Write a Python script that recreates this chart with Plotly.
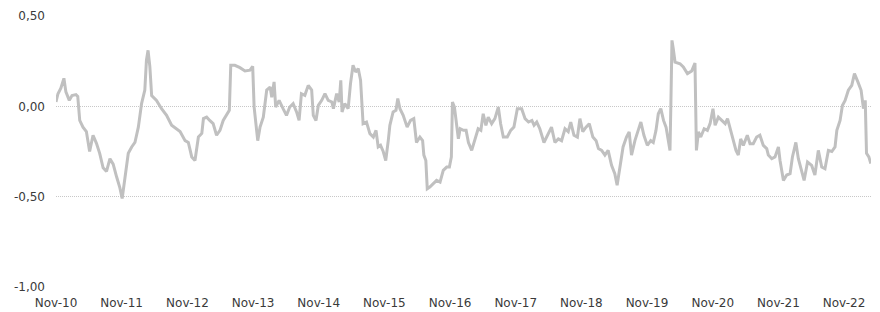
import plotly.graph_objects as go

dates = [
"2010-11-01","2010-11-12","2010-11-28","2010-12-15","2010-12-26","2011-01-14","2011-01-29","2011-02-20","2011-03-02","2011-03-13",
"2011-03-31","2011-04-19","2011-05-07","2011-05-26","2011-06-14","2011-07-02","2011-07-21","2011-08-09","2011-08-28","2011-09-15",
"2011-10-04","2011-10-22","2011-11-04","2011-11-19","2011-12-08","2011-12-27","2012-01-14","2012-02-02","2012-02-20","2012-03-09",
"2012-03-18","2012-03-27","2012-04-06","2012-04-16","2012-05-13","2012-06-10","2012-07-08","2012-08-05","2012-08-24","2012-09-21",
"2012-10-19","2012-11-06","2012-11-25","2012-12-13","2013-01-01","2013-01-20","2013-01-29","2013-02-16","2013-03-05","2013-03-24",
"2013-04-12","2013-05-01","2013-05-19","2013-06-07","2013-06-22","2013-06-30","2013-07-23","2013-08-20","2013-09-17","2013-10-15",
"2013-10-30","2013-11-07","2013-11-18","2013-11-27","2013-12-10","2013-12-28","2014-01-16","2014-02-04","2014-02-13","2014-02-26",
"2014-03-07","2014-03-26","2014-04-17","2014-05-06","2014-05-24","2014-06-12","2014-07-01","2014-07-15","2014-07-28","2014-08-16",
"2014-09-04","2014-09-23","2014-10-02","2014-10-17","2014-10-30","2014-11-18","2014-12-06","2014-12-24","2015-01-13","2015-01-22",
"2015-02-09","2015-02-23","2015-03-04","2015-03-11","2015-03-26","2015-04-14","2015-04-27","2015-05-11","2015-05-26","2015-06-09",
"2015-06-22","2015-07-06","2015-07-25","2015-08-13","2015-09-01","2015-09-16","2015-09-28","2015-10-11","2015-10-26","2015-11-09",
"2015-11-23","2015-12-02","2015-12-20","2016-01-05","2016-01-15","2016-01-27","2016-02-14","2016-03-07","2016-03-26","2016-04-13",
"2016-04-28","2016-05-17","2016-06-01","2016-06-08","2016-06-19","2016-06-27","2016-07-11","2016-07-30","2016-08-18","2016-09-06",
"2016-09-24","2016-10-13","2016-10-28","2016-11-08","2016-11-14","2016-11-25","2016-12-08","2016-12-17","2016-12-27","2017-01-14",
"2017-01-29","2017-02-11","2017-03-01","2017-03-19","2017-04-06","2017-04-21","2017-05-04","2017-05-19","2017-06-01","2017-06-20",
"2017-07-08","2017-07-27","2017-08-09","2017-08-24","2017-09-15","2017-10-04","2017-10-22","2017-11-10","2017-12-04","2017-12-23",
"2018-01-11","2018-01-30","2018-02-11","2018-02-26","2018-03-15","2018-04-07","2018-05-01","2018-05-19","2018-06-07","2018-06-26",
"2018-07-14","2018-08-02","2018-08-20","2018-09-03","2018-09-21","2018-10-10","2018-10-24","2018-11-09","2018-11-27","2018-12-15",
"2019-01-04","2019-01-22","2019-02-04","2019-02-22","2019-03-12","2019-03-30","2019-04-18","2019-05-06","2019-05-19","2019-06-03",
"2019-06-21","2019-07-10","2019-07-25","2019-08-07","2019-08-26","2019-09-13","2019-09-28","2019-10-15","2019-11-03","2019-11-22",
"2019-12-06","2019-12-21","2020-01-03","2020-01-17","2020-02-01","2020-02-15","2020-02-25","2020-03-08","2020-03-13","2020-03-19",
"2020-03-26","2020-04-05","2020-05-03","2020-05-21","2020-06-13","2020-07-07","2020-07-25","2020-08-02","2020-08-13","2020-08-26",
"2020-09-14","2020-10-02","2020-10-17","2020-11-02","2020-11-14","2020-12-02","2020-12-21","2021-01-09","2021-01-22","2021-02-06",
"2021-02-24","2021-03-10","2021-03-23","2021-04-05","2021-04-20","2021-05-12","2021-05-27","2021-06-14","2021-07-03","2021-07-21",
"2021-08-09","2021-08-28","2021-09-06","2021-09-25","2021-10-13","2021-11-01","2021-11-10","2021-11-29","2021-12-17","2022-01-05",
"2022-01-18","2022-02-06","2022-02-20","2022-03-10","2022-03-24","2022-04-12","2022-05-05","2022-05-23","2022-06-11","2022-06-30",
"2022-07-18","2022-08-06","2022-08-25","2022-09-12","2022-09-22","2022-10-10","2022-10-23","2022-11-07","2022-11-25","2022-12-14",
"2022-12-29","2023-01-17","2023-02-04","2023-02-17","2023-02-27","2023-03-06","2023-03-19","2023-03-30",
]

values = [
0.024,0.07,0.10,0.155,0.08,0.033,0.06,0.065,0.055,-0.078,
-0.115,-0.14,-0.25,-0.16,-0.205,-0.26,-0.34,-0.36,-0.29,-0.32,
-0.39,-0.45,-0.51,-0.41,-0.26,-0.225,-0.2,-0.115,0.015,0.09,
0.255,0.31,0.22,0.06,0.033,-0.013,-0.05,-0.105,-0.12,-0.14,
-0.19,-0.2,-0.28,-0.30,-0.17,-0.15,-0.068,-0.06,-0.078,-0.096,
-0.16,-0.133,-0.078,-0.05,-0.022,0.227,0.227,0.214,0.196,0.2,
0.221,-0.004,-0.115,-0.19,-0.115,-0.06,0.09,0.107,0.05,0.135,
-0.004,0.033,-0.013,-0.05,-0.004,0.015,-0.031,-0.078,0.07,0.061,
0.116,0.09,-0.05,-0.078,0.005,0.033,0.07,0.033,0.024,-0.013,
0.07,0.024,0.144,-0.031,0.015,-0.013,0.126,0.227,0.19,0.209,
0.144,-0.096,-0.087,-0.151,-0.17,-0.133,-0.225,-0.216,-0.25,-0.30,
-0.19,-0.105,-0.031,-0.022,0.043,-0.013,-0.05,-0.115,-0.078,-0.068,
-0.2,-0.17,-0.19,-0.27,-0.30,-0.456,-0.447,-0.428,-0.41,-0.419,
-0.354,-0.336,-0.336,-0.28,0.024,-0.004,-0.096,-0.18,-0.124,-0.133,
-0.133,-0.2,-0.244,-0.19,-0.124,-0.133,-0.041,-0.105,-0.06,-0.096,
-0.068,-0.004,-0.096,-0.17,-0.17,-0.133,-0.115,-0.013,-0.013,-0.068,
-0.087,-0.078,-0.105,-0.087,-0.124,-0.2,-0.151,-0.115,-0.2,-0.18,
-0.19,-0.124,-0.14,-0.087,-0.16,-0.17,-0.068,-0.14,-0.115,-0.096,
-0.17,-0.19,-0.234,-0.244,-0.27,-0.244,-0.327,-0.373,-0.437,-0.345,
-0.225,-0.17,-0.142,-0.27,-0.19,-0.133,-0.087,-0.16,-0.216,-0.19,
-0.2,-0.133,-0.041,-0.013,-0.078,-0.115,-0.17,-0.244,0.015,0.365,
0.32,0.245,0.236,0.218,0.181,0.196,0.24,-0.244,-0.142,-0.17,
-0.124,-0.133,-0.096,-0.013,-0.105,-0.06,-0.078,-0.096,-0.068,-0.124,
-0.207,-0.244,-0.27,-0.18,-0.216,-0.16,-0.207,-0.207,-0.17,-0.16,
-0.216,-0.234,-0.27,-0.29,-0.28,-0.225,-0.30,-0.41,-0.38,-0.373,
-0.28,-0.2,-0.29,-0.363,-0.41,-0.308,-0.327,-0.38,-0.244,-0.336,
-0.345,-0.244,-0.25,-0.225,-0.133,-0.078,0.005,0.033,0.089,0.116,
0.181,0.135,0.089,-0.013,0.033,-0.26,-0.28,-0.317,
]

tick_dates = ["2010-11-01","2011-11-01","2012-11-01","2013-11-01","2014-11-01","2015-11-01","2016-11-01",
              "2017-11-01","2018-11-01","2019-11-01","2020-11-01","2021-11-01","2022-11-01"]
tick_labels = ["Nov-10","Nov-11","Nov-12","Nov-13","Nov-14","Nov-15","Nov-16",
               "Nov-17","Nov-18","Nov-19","Nov-20","Nov-21","Nov-22"]
y_ticks = [-1.0, -0.5, 0.0, 0.5]
y_labels = ["-1,00", "-0,50", "0,00", "0,50"]

fig = go.Figure()
fig.add_trace(go.Scatter(x=dates, y=values, mode="lines",
                         line=dict(color="#c0c0c0", width=3), hoverinfo="skip"))

# the page body has an 8px default margin, so the figure is 8px smaller on each side
fig.update_layout(
    width=872, height=304,
    margin=dict(l=48, r=9, t=8, b=25),
    paper_bgcolor="white", plot_bgcolor="white",
    showlegend=False,
    font=dict(family="DejaVu Sans", size=12, color="#3a3a3a"),
)
fig.update_xaxes(
    range=["2010-11-01", "2023-03-31"],
    tickmode="array", tickvals=tick_dates, ticktext=tick_labels,
    showgrid=False, zeroline=False, showline=False, ticks="",
    ticklabelstandoff=7, automargin=False,
)
fig.update_yaxes(
    range=[-1.0, 0.5],
    tickmode="array", tickvals=y_ticks, ticktext=y_labels,
    showgrid=True, gridcolor="#c8c8c8", griddash="1px,1px", gridwidth=1,
    zeroline=False, showline=False, ticks="",
    ticklabelstandoff=10, automargin=False,
)

fig.write_html("out.html")
